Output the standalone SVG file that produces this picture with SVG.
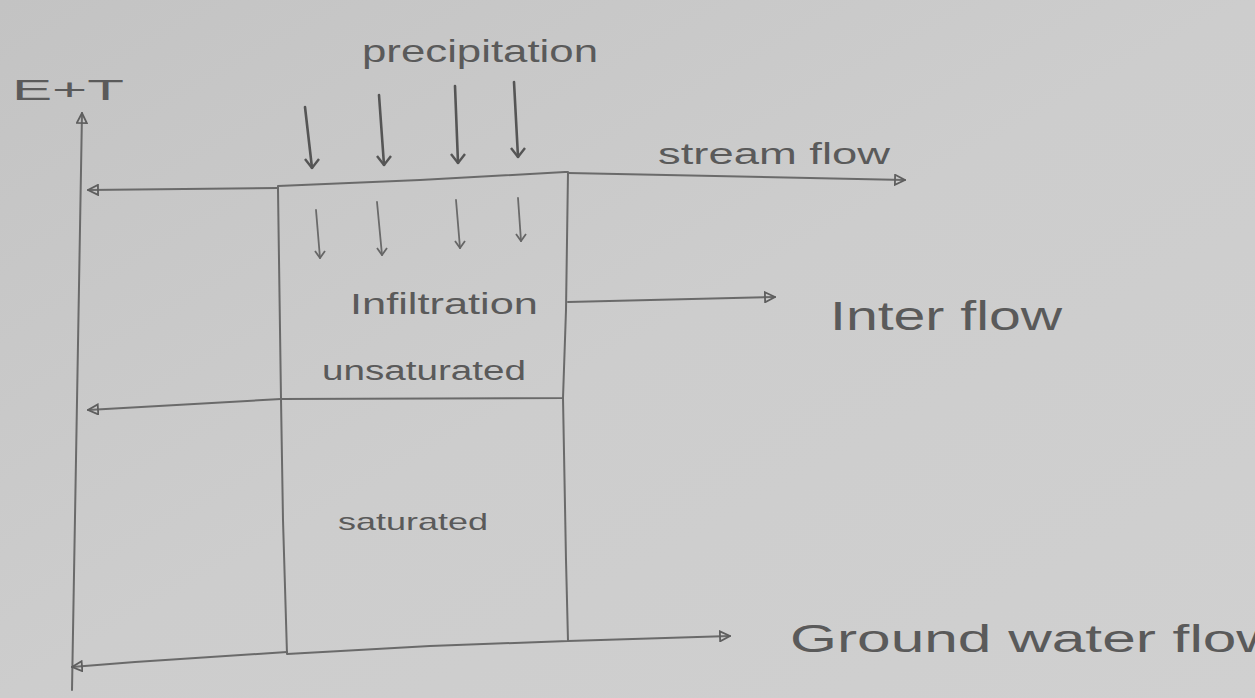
<svg xmlns="http://www.w3.org/2000/svg" width="1255" height="698" viewBox="0 0 1255 698">
<defs>
<linearGradient id="bg" x1="0" y1="0" x2="1" y2="1">
<stop offset="0" stop-color="#c3c3c3"/>
<stop offset="0.5" stop-color="#cdcdcd"/>
<stop offset="1" stop-color="#d0d0d0"/>
</linearGradient>
<marker id="open" viewBox="0 0 12 12" refX="11" refY="6" markerWidth="12" markerHeight="12" markerUnits="userSpaceOnUse" orient="auto">
<path d="M1,1 L11,6 L1,11 Z" fill="none" stroke="#5e5e5e" stroke-width="1.8"/>
</marker>
<marker id="vee" viewBox="0 0 16 16" refX="8" refY="15" markerWidth="16" markerHeight="16" markerUnits="userSpaceOnUse" orient="0">
<path d="M1,6 L8,15 L15,6" fill="none" stroke="#555" stroke-width="2.4"/>
</marker>
<marker id="veeS" viewBox="0 0 12 12" refX="6" refY="11" markerWidth="12" markerHeight="12" markerUnits="userSpaceOnUse" orient="0">
<path d="M1,4 L6,11 L11,4" fill="none" stroke="#666" stroke-width="1.8"/>
</marker>
</defs>
<style>
.ln{fill:none;stroke:#6a6a6a;stroke-width:2;stroke-linecap:round;stroke-linejoin:round}
.pr{fill:none;stroke:#555;stroke-width:2.6;stroke-linecap:round}
.in{fill:none;stroke:#6a6a6a;stroke-width:1.8;stroke-linecap:round}
.t{font-family:"Liberation Sans","DejaVu Sans",sans-serif;fill:#5a5a5a}
</style>
<rect width="1255" height="698" fill="url(#bg)"/>

<g id="connectors">
<path class="ln" d="M72,690 L82,113" marker-end="url(#open)"/>
<path class="ln" d="M278,188 L88,190" marker-end="url(#open)"/>
<path class="ln" d="M568,173 L905,180" marker-end="url(#open)"/>
<path class="ln" d="M281,399 L88,410" marker-end="url(#open)"/>
<path class="ln" d="M568,302 L775,297" marker-end="url(#open)"/>
<path class="ln" d="M287,652 L135,662 L72,667" marker-end="url(#open)"/>
<path class="ln" d="M568,641 L730,636" marker-end="url(#open)"/>
<path class="pr" d="M305,107 L312,168" marker-end="url(#vee)"/>
<path class="pr" d="M379,95 L384,165" marker-end="url(#vee)"/>
<path class="pr" d="M455,86 L458,163" marker-end="url(#vee)"/>
<path class="pr" d="M514,82 L518,157" marker-end="url(#vee)"/>
<path class="in" d="M316,210 L320,258" marker-end="url(#veeS)"/>
<path class="in" d="M377,202 L382,255" marker-end="url(#veeS)"/>
<path class="in" d="M456,200 L460,248" marker-end="url(#veeS)"/>
<path class="in" d="M518,198 L521,241" marker-end="url(#veeS)"/>
</g>

<g id="unsaturated-zone">
<path class="ln" d="M278,190 L278,186 L420,180 L565,172 L568,172 L566,310 L563,398 L281,399 L278,190"/>
<text class="t" x="350" y="314" font-size="30" textLength="188" lengthAdjust="spacingAndGlyphs">Infiltration</text>
<text class="t" x="322" y="380" font-size="27" textLength="204" lengthAdjust="spacingAndGlyphs">unsaturated</text>
</g>

<g id="saturated-zone">
<path class="ln" d="M281,399 L283,520 L287,654 L430,646 L568,641 L566,560 L563,398"/>
<text class="t" x="338" y="530" font-size="24" textLength="150" lengthAdjust="spacingAndGlyphs">saturated</text>
</g>

<g id="labels">
<text class="t" x="12" y="100" font-size="30" textLength="112" lengthAdjust="spacingAndGlyphs">E+T</text>
<text class="t" x="362" y="62" font-size="32" textLength="236" lengthAdjust="spacingAndGlyphs">precipitation</text>
<text class="t" x="658" y="164" font-size="30" textLength="232" lengthAdjust="spacingAndGlyphs">stream flow</text>
<text class="t" x="830" y="330" font-size="40" textLength="232" lengthAdjust="spacingAndGlyphs">Inter flow</text>
<text class="t" x="790" y="652" font-size="38" textLength="490" lengthAdjust="spacingAndGlyphs">Ground water flow</text>
</g>
</svg>
